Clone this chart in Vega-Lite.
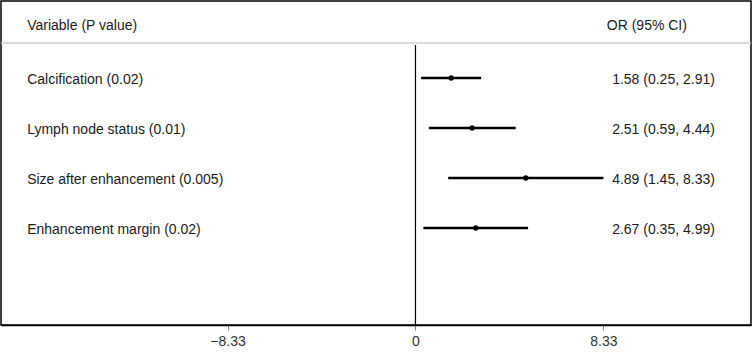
{
  "$schema": "https://vega.github.io/schema/vega-lite/v6.json",
  "width": 750,
  "height": 324,
  "autosize": {"type": "none"},
  "padding": {"left": 1, "top": 1, "right": 4, "bottom": 30},
  "background": "white",
  "config": {
    "view": {"stroke": "black", "strokeWidth": 1.5},
    "font": "Liberation Sans",
    "axisX": {
      "title": null, "grid": false,
      "labelExpr": "datum.value === 0 ? '0' : format(datum.value, '.2f')",
      "domainColor": "black", "domainWidth": 1.5,
      "tickColor": "#888", "tickSize": 5, "tickWidth": 1,
      "labelFont": "Liberation Sans", "labelFontSize": 14, "labelColor": "#333", "labelPadding": 4
    }
  },
  "datasets": {
    "rows": [
      {"row": 1, "label": "Calcification (0.02)", "or": 1.58, "lo": 0.25, "hi": 2.91, "ci": "1.58 (0.25, 2.91)"},
      {"row": 2, "label": "Lymph node status (0.01)", "or": 2.51, "lo": 0.59, "hi": 4.44, "ci": "2.51 (0.59, 4.44)"},
      {"row": 3, "label": "Size after enhancement (0.005)", "or": 4.89, "lo": 1.45, "hi": 8.33, "ci": "4.89 (1.45, 8.33)"},
      {"row": 4, "label": "Enhancement margin (0.02)", "or": 2.67, "lo": 0.35, "hi": 4.99, "ci": "2.67 (0.35, 4.99)"}
    ],
    "header": [
      {"left": "Variable (P value)", "right": "OR (95% CI)"}
    ]
  },
  "layer": [
    {
      "data": {"name": "header"},
      "mark": {"type": "rule", "color": "#cfcfcf", "strokeWidth": 1.5},
      "encoding": {
        "y": {"datum": 0.3, "type": "quantitative", "scale": {"domain": [-0.54, 5.94], "reverse": true, "nice": false, "zero": false}, "axis": null}
      }
    },
    {
      "data": {"name": "header"},
      "mark": {"type": "rule", "color": "black", "strokeWidth": 1.2},
      "encoding": {
        "x": {"datum": 0, "type": "quantitative", "scale": {"domain": [-18.37, 14.87], "nice": false, "zero": false}, "axis": {"values": [-8.33, 0, 8.33]}, "title": null},
        "y": {"datum": 0.34, "type": "quantitative", "scale": {"domain": [-0.54, 5.94], "reverse": true, "nice": false, "zero": false}, "axis": null},
        "y2": {"datum": 5.94}
      }
    },
    {
      "data": {"name": "rows"},
      "mark": {"type": "rule", "color": "black", "strokeWidth": 2.5},
      "encoding": {
        "x": {"field": "lo", "type": "quantitative", "scale": {"domain": [-18.37, 14.87], "nice": false, "zero": false}, "axis": {"values": [-8.33, 0, 8.33]}, "title": null},
        "x2": {"field": "hi"},
        "y": {"field": "row", "type": "quantitative", "scale": {"domain": [-0.54, 5.94], "reverse": true, "nice": false, "zero": false}, "axis": null}
      }
    },
    {
      "data": {"name": "rows"},
      "mark": {"type": "point", "shape": "circle", "filled": true, "color": "black", "opacity": 1, "size": 28},
      "encoding": {
        "x": {"field": "or", "type": "quantitative", "scale": {"domain": [-18.37, 14.87], "nice": false, "zero": false}, "axis": {"values": [-8.33, 0, 8.33]}, "title": null},
        "y": {"field": "row", "type": "quantitative", "scale": {"domain": [-0.54, 5.94], "reverse": true, "nice": false, "zero": false}, "axis": null}
      }
    },
    {
      "data": {"name": "rows"},
      "mark": {"type": "text", "align": "left", "baseline": "middle", "dy": 1.5, "fontSize": 14, "color": "#1a1a1a", "font": "Liberation Sans"},
      "encoding": {
        "x": {"datum": -17.21, "type": "quantitative", "scale": {"domain": [-18.37, 14.87], "nice": false, "zero": false}, "axis": {"values": [-8.33, 0, 8.33]}, "title": null},
        "y": {"field": "row", "type": "quantitative", "scale": {"domain": [-0.54, 5.94], "reverse": true, "nice": false, "zero": false}, "axis": null},
        "text": {"field": "label"}
      }
    },
    {
      "data": {"name": "rows"},
      "mark": {"type": "text", "align": "right", "baseline": "middle", "dy": 1.5, "fontSize": 14, "color": "#1a1a1a", "font": "Liberation Sans"},
      "encoding": {
        "x": {"datum": 13.27, "type": "quantitative", "scale": {"domain": [-18.37, 14.87], "nice": false, "zero": false}, "axis": {"values": [-8.33, 0, 8.33]}, "title": null},
        "y": {"field": "row", "type": "quantitative", "scale": {"domain": [-0.54, 5.94], "reverse": true, "nice": false, "zero": false}, "axis": null},
        "text": {"field": "ci"}
      }
    },
    {
      "data": {"name": "header"},
      "mark": {"type": "text", "align": "left", "baseline": "middle", "dy": 1.5, "fontSize": 14, "color": "#1a1a1a", "font": "Liberation Sans"},
      "encoding": {
        "x": {"datum": -17.21, "type": "quantitative", "scale": {"domain": [-18.37, 14.87], "nice": false, "zero": false}, "axis": {"values": [-8.33, 0, 8.33]}, "title": null},
        "y": {"datum": -0.08, "type": "quantitative", "scale": {"domain": [-0.54, 5.94], "reverse": true, "nice": false, "zero": false}, "axis": null},
        "text": {"field": "left"}
      }
    },
    {
      "data": {"name": "header"},
      "mark": {"type": "text", "align": "right", "baseline": "middle", "dy": 1.5, "fontSize": 14, "color": "#1a1a1a", "font": "Liberation Sans"},
      "encoding": {
        "x": {"datum": 12.03, "type": "quantitative", "scale": {"domain": [-18.37, 14.87], "nice": false, "zero": false}, "axis": {"values": [-8.33, 0, 8.33]}, "title": null},
        "y": {"datum": -0.08, "type": "quantitative", "scale": {"domain": [-0.54, 5.94], "reverse": true, "nice": false, "zero": false}, "axis": null},
        "text": {"field": "right"}
      }
    }
  ]
}
